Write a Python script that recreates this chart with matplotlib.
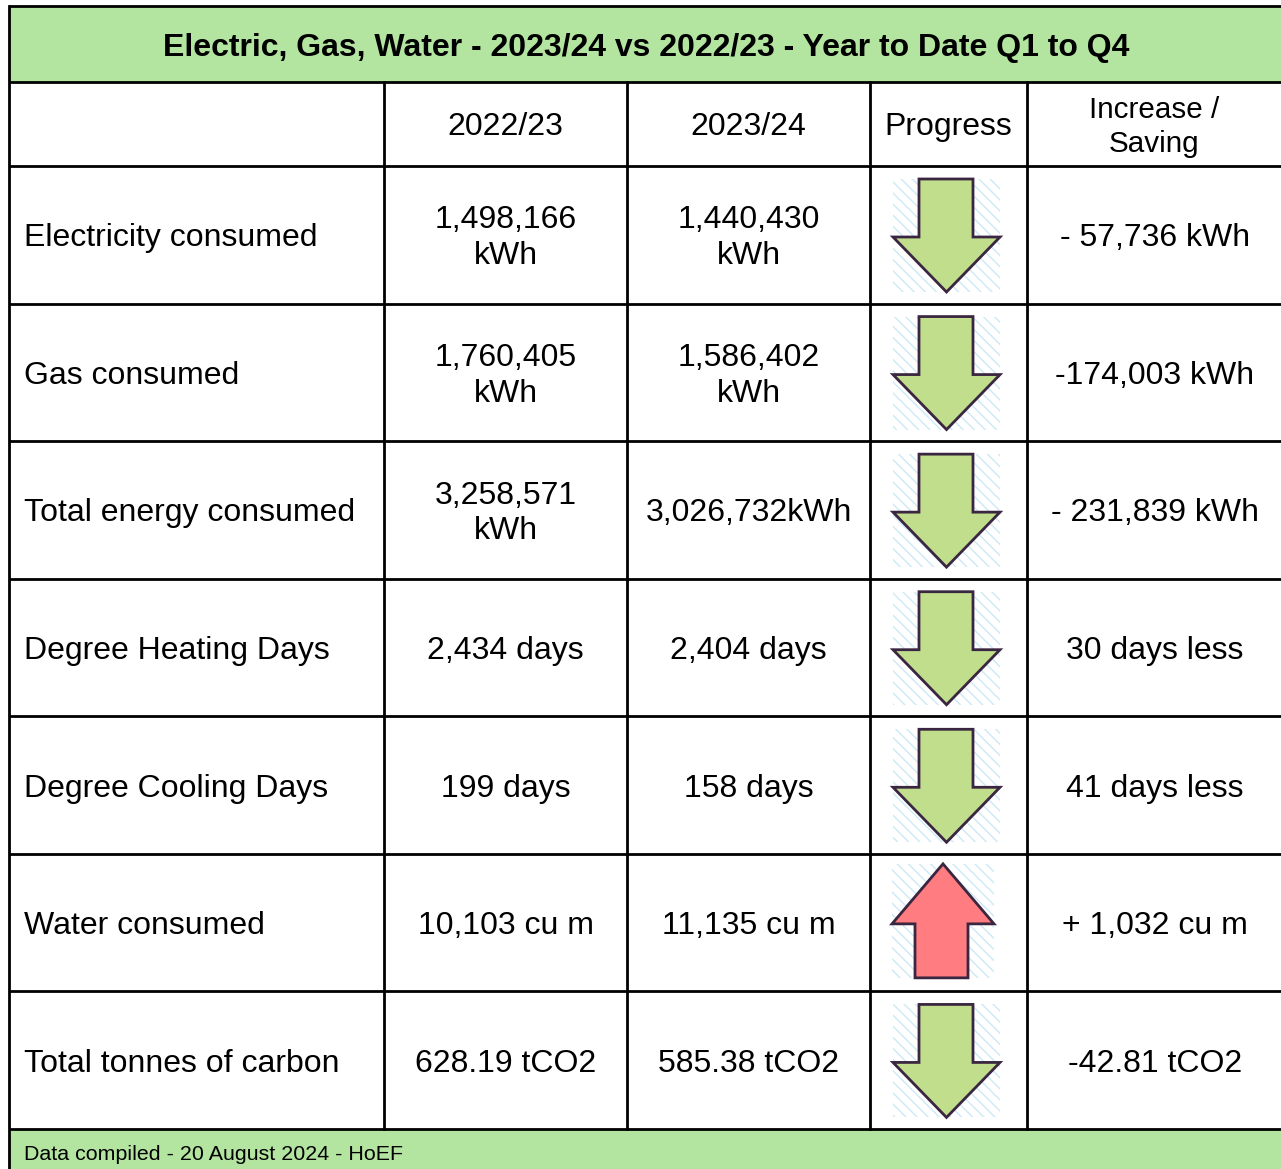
import matplotlib
matplotlib.use("Agg")
import matplotlib.pyplot as plt
from matplotlib.patches import Rectangle, Polygon

plt.rcParams['font.family'] = ['Liberation Sans', 'DejaVu Sans']

title = "Electric, Gas, Water - 2023/24 vs 2022/23 - Year to Date Q1 to Q4"
headers = ["", "2022/23", "2023/24", "Progress", "Increase /\nSaving"]
categories = ["Electricity consumed", "Gas consumed", "Total energy consumed",
              "Degree Heating Days", "Degree Cooling Days", "Water consumed",
              "Total tonnes of carbon"]
values_2223 = ["1,498,166\nkWh", "1,760,405\nkWh", "3,258,571\nkWh",
               "2,434 days", "199 days", "10,103 cu m", "628.19 tCO2"]
values_2324 = ["1,440,430\nkWh", "1,586,402\nkWh", "3,026,732kWh",
               "2,404 days", "158 days", "11,135 cu m", "585.38 tCO2"]
progress = ["down", "down", "down", "down", "down", "up", "down"]
changes = ["- 57,736 kWh", "-174,003 kWh", "- 231,839 kWh",
           "30 days less", "41 days less", "+ 1,032 cu m", "-42.81 tCO2"]
footer = "Data compiled - 20 August 2024 - HoEF"

W, H = 1281, 1169
fig = plt.figure(figsize=(W / 100, H / 100), dpi=100)
ax = fig.add_axes([0, 0, 1, 1])
ax.set_xlim(0, W)
ax.set_ylim(H, 0)
ax.axis('off')

green = '#b3e5a1'
col_x = [9, 384, 627, 870, 1027, 1290]
top = 6
title_bot = 82
header_bot = 166
row_h = (1129 - 166) / 7.0
foot_top = 1129

ax.add_patch(Rectangle((col_x[0], top), W - col_x[0] + 10, title_bot - top,
                       facecolor=green, edgecolor='none', zorder=0))
ax.add_patch(Rectangle((col_x[0], foot_top), W - col_x[0] + 10, H - foot_top + 10,
                       facecolor=green, edgecolor='none', zorder=0))

lw = 2.0
ys = [top, title_bot, header_bot] + [header_bot + row_h * (i + 1) for i in range(7)]
for y in ys:
    ax.plot([col_x[0], W + 5], [y, y], color='black', lw=lw, solid_capstyle='butt', zorder=3)
ax.plot([col_x[0], col_x[0]], [top, H + 5], color='black', lw=lw, zorder=3)
for x in col_x[1:5]:
    ax.plot([x, x], [title_bot, foot_top], color='black', lw=lw, zorder=3)

fs = 23
ls = 1.25
ax.text((col_x[0] + W) / 2 + 1, (top + title_bot) / 2 + 4, title, ha='center', va='center',
        fontsize=23, fontweight='bold', color='black')
ax.text(24, (foot_top + H) / 2 + 5, footer, ha='left', va='center', fontsize=15.4, color='black')

for j, h in enumerate(headers):
    if not h:
        continue
    cx = (col_x[j] + min(col_x[j + 1], W)) / 2
    ax.text(cx, (title_bot + header_bot) / 2 + 3, h, ha='center', va='center',
            fontsize=fs if j < 4 else 21.3, linespacing=ls)

for i in range(7):
    y0 = header_bot + row_h * i
    cy = y0 + row_h / 2 + 3.5
    ax.text(24, cy, categories[i], ha='left', va='center', fontsize=fs)
    ax.text((col_x[1] + col_x[2]) / 2, cy, values_2223[i], ha='center', va='center',
            fontsize=fs, linespacing=ls)
    ax.text((col_x[2] + col_x[3]) / 2, cy, values_2324[i], ha='center', va='center',
            fontsize=fs, linespacing=ls)
    ax.text((col_x[4] + W) / 2 + 1, cy, changes[i], ha='center', va='center', fontsize=fs)

    if progress[i] == 'down':
        x0, x1 = 893, 1000
        ya, yb = y0 + 13, y0 + 126
        ax.add_patch(Rectangle((x0, ya), x1 - x0, yb - ya, facecolor='none',
                               edgecolor='#cde9f5', lw=0, hatch='\\\\\\', zorder=1))
        sx0, sx1 = 919, 973
        hy = ya + 58
        pts = [(sx0, ya), (sx1, ya), (sx1, hy), (x1, hy), ((x0 + x1) / 2, yb),
               (x0, hy), (sx0, hy)]
        ax.add_patch(Polygon(pts, closed=True, facecolor='#c0de8c', edgecolor='#3a2640',
                             lw=2.0, joinstyle='miter', zorder=2))
    else:
        x0, x1 = 892, 994
        ya, yb = y0 + 10, y0 + 124
        ax.add_patch(Rectangle((x0, ya), x1 - x0, yb - ya, facecolor='none',
                               edgecolor='#cde9f5', lw=0, hatch='\\\\\\', zorder=1))
        sx0, sx1 = 915, 968
        hy = ya + 60
        pts = [((x0 + x1) / 2, ya), (x1, hy), (sx1, hy), (sx1, yb), (sx0, yb),
               (sx0, hy), (x0, hy)]
        ax.add_patch(Polygon(pts, closed=True, facecolor='#ff7c80', edgecolor='#3a2640',
                             lw=2.0, joinstyle='miter', zorder=2))

fig.savefig('out.png', dpi=100, facecolor='white')
